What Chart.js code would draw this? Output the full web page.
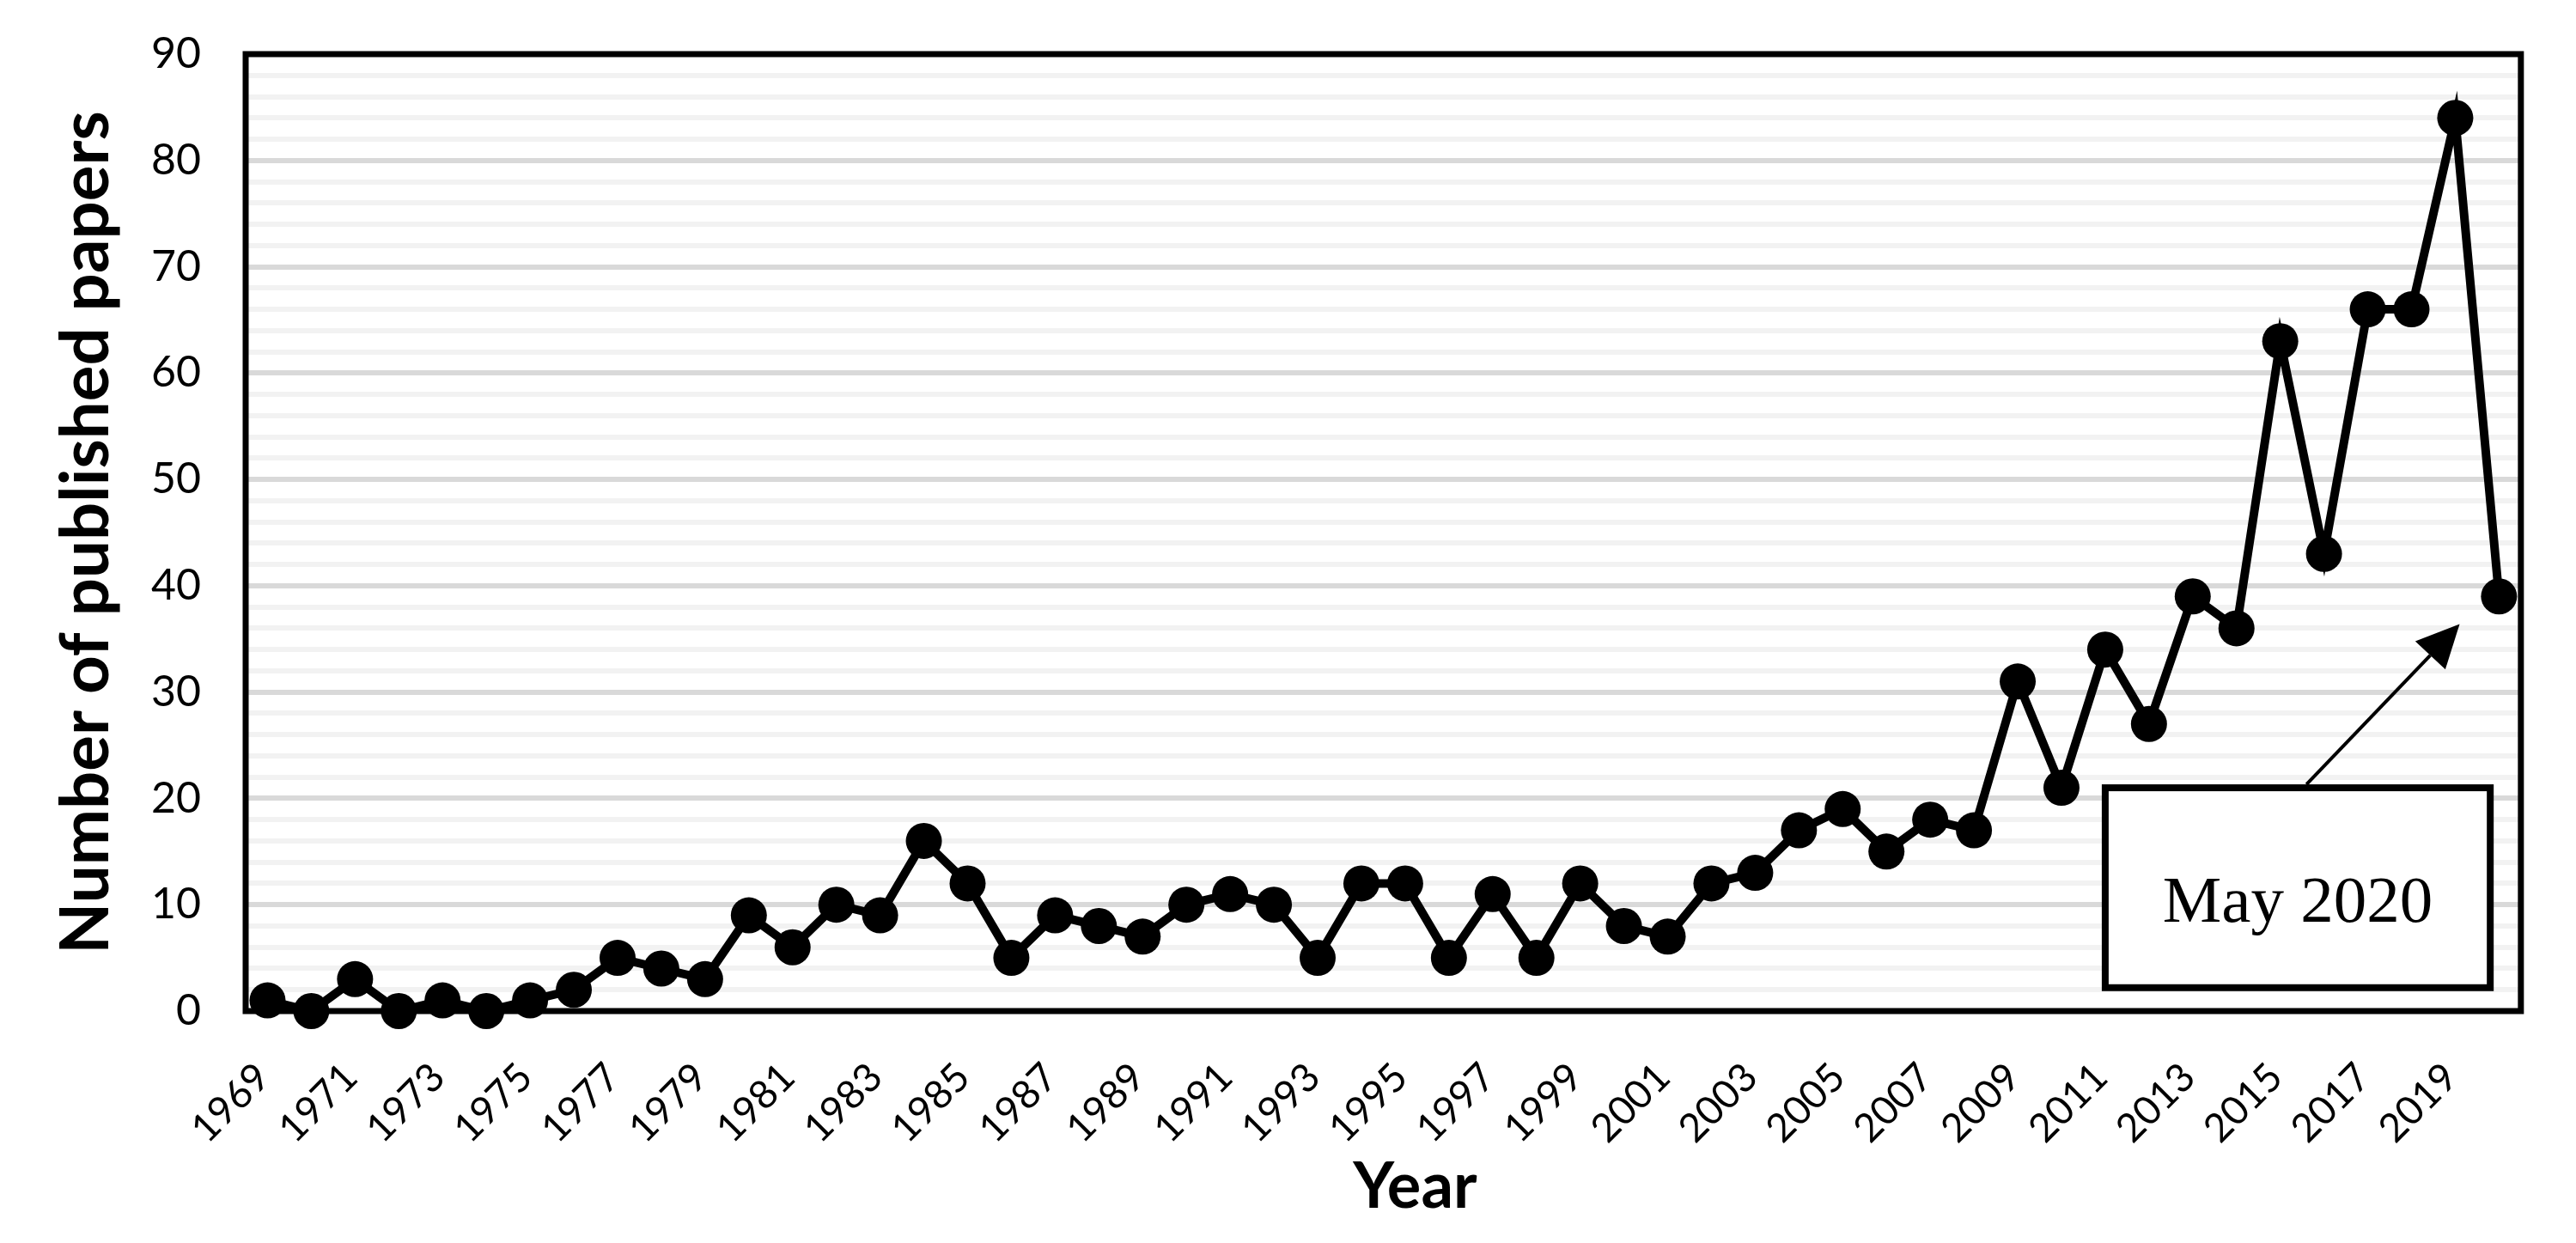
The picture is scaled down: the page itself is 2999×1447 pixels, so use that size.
<!DOCTYPE html>
<html>
<head>
<meta charset="utf-8">
<script src="https://cdn.jsdelivr.net/npm/chart.js@4/dist/chart.umd.min.js"></script>
<style>
  html, body { margin: 0; padding: 0; background: #fff; }
  #wrap { width: 2999px; height: 1447px; }
</style>
</head>
<body>
<div id="wrap"><canvas id="paperChart" width="2999" height="1447"></canvas></div>
<script>
/* =========================
    Data
========================= */
const years = [];
for (let y = 1969; y <= 2020; y++) years.push(String(y));

const paperCounts = [
  1, 0, 3, 0, 1, 0, 1, 2, 5, 4,
  3, 9, 6, 10, 9, 16, 12, 5, 9, 8,
  7, 10, 11, 10, 5, 12, 12, 5, 11, 5,
  12, 8, 7, 12, 13, 17, 19, 15, 18, 17,
  31, 21, 34, 27, 39, 36, 63, 43, 66, 66,
  84, 39
];

const yMin = 0;
const yMax = 90;
const yMinorStep = 2;
const yMajorStep = 10;

// note box corners (year, value) and arrow from box top towards the last point
const noteText = 'May 2020';
const noteBox = { x0: 2011.0, x1: 2019.8, y0: 2.2, y1: 21.0 };
const noteArrow = { fromX: 2015.6, fromY: 21.0, toX: 2019.1, toY: 36.4 };

/* =========================
    Plugins
========================= */
const frameBox = {
  id: 'frameBox',
  afterDatasetsDraw(chart) {
    const { ctx, chartArea: a } = chart;
    ctx.save();
    ctx.strokeStyle = '#000';
    ctx.lineWidth = 7;
    ctx.strokeRect(a.left, a.top, a.right - a.left, a.bottom - a.top);
    ctx.restore();
  }
};

function catPixel(scale, year) {
  // fractional category position
  const i = year - 1969;
  const p0 = scale.getPixelForValue(0);
  const p1 = scale.getPixelForValue(1);
  return p0 + (p1 - p0) * i;
}

const noteCallout = {
  id: 'noteCallout',
  afterDraw(chart) {
    const { ctx } = chart;
    const xs = chart.scales.x, ys = chart.scales.y;
    const left = catPixel(xs, noteBox.x0), right = catPixel(xs, noteBox.x1);
    const top = ys.getPixelForValue(noteBox.y1), bottom = ys.getPixelForValue(noteBox.y0);
    ctx.save();
    ctx.fillStyle = '#fff';
    ctx.fillRect(left, top, right - left, bottom - top);
    ctx.strokeStyle = '#000';
    ctx.lineWidth = 8;
    ctx.strokeRect(left, top, right - left, bottom - top);
    ctx.fillStyle = '#000';
    ctx.font = '77px "Liberation Serif", "DejaVu Serif", serif';
    ctx.textAlign = 'center';
    ctx.textBaseline = 'alphabetic';
    ctx.fillText(noteText, (left + right) / 2, (top + bottom) / 2 + 40);

    // arrow
    const ax = catPixel(xs, noteArrow.fromX), ay = ys.getPixelForValue(noteArrow.fromY);
    const bx = catPixel(xs, noteArrow.toX), by = ys.getPixelForValue(noteArrow.toY);
    const ang = Math.atan2(by - ay, bx - ax);
    const headLen = 50, headW = 24;
    const hx = bx - Math.cos(ang) * headLen, hy = by - Math.sin(ang) * headLen;
    ctx.lineWidth = 4;
    ctx.beginPath();
    ctx.moveTo(ax, ay - 4);
    ctx.lineTo(hx, hy);
    ctx.stroke();
    ctx.beginPath();
    ctx.moveTo(bx, by);
    ctx.lineTo(hx + Math.sin(ang) * headW, hy - Math.cos(ang) * headW);
    ctx.lineTo(hx - Math.sin(ang) * headW, hy + Math.cos(ang) * headW);
    ctx.closePath();
    ctx.fill();
    ctx.restore();
  }
};

/* =========================
    Chart
========================= */
const ctx = document.getElementById('paperChart').getContext('2d');
new Chart(ctx, {
  type: 'line',
  data: {
    labels: years,
    datasets: [{
      label: 'Published papers',
      data: paperCounts,
      borderColor: '#000',
      backgroundColor: '#000',
      borderWidth: 10,
      tension: 0,
      pointRadius: 21,
      pointBorderWidth: 0,
      pointBackgroundColor: '#000',
      clip: false
    }]
  },
  options: {
    responsive: false,
    animation: false,
    layout: { padding: { left: 30, right: 63, top: 63, bottom: 20 } },
    plugins: {
      legend: { display: false },
      tooltip: { enabled: false }
    },
    scales: {
      x: {
        type: 'category',
        offset: true,
        grid: { display: false, drawTicks: false },
        border: { display: false },
        ticks: {
          autoSkip: false,
          minRotation: 45,
          maxRotation: 45,
          padding: 50,
          labelOffset: -5,
          color: '#000',
          font: { family: 'Lato, "Open Sans", sans-serif', size: 46 },
          callback: function (val, idx) { return idx % 2 === 0 ? this.getLabelForValue(val) : ''; }
        },
        title: {
          display: true,
          text: '\u2002\u2002Year',
          color: '#000',
          font: { family: 'Lato, "Open Sans", sans-serif', size: 74, weight: 'bold' },
          padding: { top: 0, bottom: 0 }
        },
        afterFit(scale) { scale.height = 1447 - 1177 - 20; }
      },
      y: {
        min: yMin,
        max: yMax,
        grid: {
          lineWidth: 6,
          drawTicks: false,
          color: c => (c.tick && c.tick.value % yMajorStep === 0) ? '#d9d9d9' : '#f2f2f2'
        },
        border: { display: false },
        ticks: {
          stepSize: yMinorStep,
          autoSkip: false,
          padding: 52,
          color: '#000',
          font: { family: 'Lato, "Open Sans", sans-serif', size: 50 },
          callback: v => (v % yMajorStep === 0 ? v : '')
        },
        title: {
          display: true,
          text: 'Number of published papers',
          color: '#000',
          font: { family: 'Lato, "Open Sans", sans-serif', size: 78, weight: 'bold' },
          padding: { top: 24, bottom: 0 }
        },
        afterFit(scale) {
          scale.width = 286 - 30;
          // tick padding would otherwise push the plot top down
          scale.paddingTop = 0;
          scale.paddingBottom = 0;
        }
      }
    }
  },
  plugins: [frameBox, noteCallout]
});
</script>
</body>
</html>
